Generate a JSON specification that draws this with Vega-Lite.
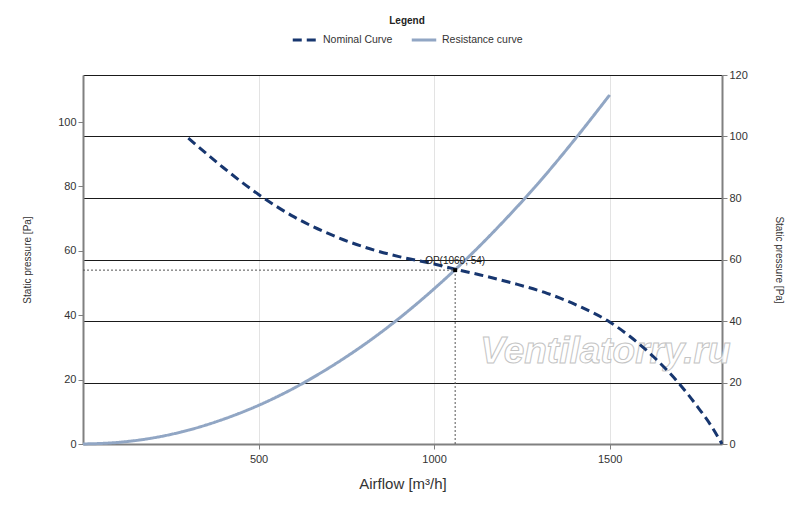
{
  "$schema": "https://vega.github.io/schema/vega-lite/v6.json",
  "width": 639,
  "height": 369,
  "autosize": {"type": "none"},
  "padding": {"left": 83, "top": 75, "right": 78, "bottom": 63},
  "background": "#ffffff",
  "datasets": {
    "curves": [
      {"curve": "Nominal Curve", "q": 300, "p": 95},
      {"curve": "Nominal Curve", "q": 400, "p": 85.8},
      {"curve": "Nominal Curve", "q": 500, "p": 77.5},
      {"curve": "Nominal Curve", "q": 600, "p": 70.6},
      {"curve": "Nominal Curve", "q": 700, "p": 65.3},
      {"curve": "Nominal Curve", "q": 800, "p": 61.2},
      {"curve": "Nominal Curve", "q": 900, "p": 58.2},
      {"curve": "Nominal Curve", "q": 1000, "p": 55.9},
      {"curve": "Nominal Curve", "q": 1060, "p": 54.3},
      {"curve": "Nominal Curve", "q": 1132, "p": 52.5},
      {"curve": "Nominal Curve", "q": 1226, "p": 49.9},
      {"curve": "Nominal Curve", "q": 1322, "p": 46.8},
      {"curve": "Nominal Curve", "q": 1417, "p": 42.6},
      {"curve": "Nominal Curve", "q": 1500, "p": 37.9},
      {"curve": "Nominal Curve", "q": 1559, "p": 33.3},
      {"curve": "Nominal Curve", "q": 1625, "p": 27.1},
      {"curve": "Nominal Curve", "q": 1700, "p": 18.5},
      {"curve": "Nominal Curve", "q": 1750, "p": 11.6},
      {"curve": "Nominal Curve", "q": 1790, "p": 5.5},
      {"curve": "Nominal Curve", "q": 1820, "p": 0},
      {"curve": "Resistance curve", "q": 0, "p": 0},
      {"curve": "Resistance curve", "q": 100, "p": 0.5},
      {"curve": "Resistance curve", "q": 200, "p": 1.9},
      {"curve": "Resistance curve", "q": 300, "p": 4.3},
      {"curve": "Resistance curve", "q": 400, "p": 7.7},
      {"curve": "Resistance curve", "q": 500, "p": 12.0},
      {"curve": "Resistance curve", "q": 600, "p": 17.3},
      {"curve": "Resistance curve", "q": 700, "p": 23.6},
      {"curve": "Resistance curve", "q": 800, "p": 30.8},
      {"curve": "Resistance curve", "q": 900, "p": 39.0},
      {"curve": "Resistance curve", "q": 1000, "p": 48.2},
      {"curve": "Resistance curve", "q": 1100, "p": 58.3},
      {"curve": "Resistance curve", "q": 1200, "p": 69.4},
      {"curve": "Resistance curve", "q": 1300, "p": 81.4},
      {"curve": "Resistance curve", "q": 1400, "p": 94.5},
      {"curve": "Resistance curve", "q": 1500, "p": 108.4}
    ],
    "op": [
      {"label": "OP(1060, 54)", "q": 1060, "p": 54, "q0": 0, "p0": 0}
    ],
    "watermark": [
      {"label": "Ventilatorry.ru", "q": 1488, "p": 28.5}
    ]
  },
  "layer": [
    {
      "data": {"name": "op"},
      "mark": {"type": "rule", "opacity": 0},
      "encoding": {
        "y": {
          "field": "p",
          "type": "quantitative",
          "scale": {"domain": [0, 120], "nice": false},
          "axis": {
            "orient": "right",
            "values": [0, 20, 40, 60, 80, 100, 120],
            "grid": true,
            "gridColor": "#1a1a1a",
            "gridWidth": 1,
            "title": "Static pressure [Pa]",
            "titlePadding": 26
          }
        }
      }
    },
    {
      "layer": [
        {
          "data": {"name": "watermark"},
          "mark": {
            "type": "text",
            "font": "Liberation Sans",
            "fontSize": 37,
            "fontStyle": "italic",
            "fontWeight": "bold",
            "fill": "#ffffff",
            "fillOpacity": 0.85,
            "stroke": "#c4c4c4",
            "strokeWidth": 1,
            "align": "center",
            "baseline": "middle"
          },
          "encoding": {
            "x": {"field": "q", "type": "quantitative"},
            "y": {"field": "p", "type": "quantitative"},
            "text": {"field": "label", "type": "nominal"}
          }
        },
        {
          "data": {"name": "curves"},
          "mark": {"type": "line", "interpolate": "monotone", "strokeWidth": 3},
          "encoding": {
            "x": {
              "field": "q",
              "type": "quantitative",
              "title": "Airflow [m³/h]",
              "scale": {"domain": [0, 1820], "nice": false},
              "axis": {"values": [500, 1000, 1500], "format": "d"}
            },
            "y": {
              "field": "p",
              "type": "quantitative",
              "title": "Static pressure [Pa]",
              "scale": {"domain": [0, 114.6], "nice": false},
              "axis": {"orient": "left", "values": [0, 20, 40, 60, 80, 100], "titlePadding": 25}
            },
            "color": {
              "field": "curve",
              "type": "nominal",
              "scale": {"domain": ["Nominal Curve", "Resistance curve"], "range": ["#17366f", "#91a6c4"]},
              "legend": {"title": "Legend"}
            },
            "strokeDash": {
              "field": "curve",
              "type": "nominal",
              "scale": {"domain": ["Nominal Curve", "Resistance curve"], "range": [[9, 5], [1, 0]]},
              "legend": {"title": "Legend"}
            },
            "order": {"field": "q", "type": "quantitative"}
          }
        },
        {
          "data": {"name": "op"},
          "mark": {"type": "rule", "color": "#555555", "strokeWidth": 1, "strokeDash": [2, 2]},
          "encoding": {
            "x": {"field": "q0", "type": "quantitative"},
            "x2": {"field": "q"},
            "y": {"field": "p", "type": "quantitative"}
          }
        },
        {
          "data": {"name": "op"},
          "mark": {"type": "rule", "color": "#555555", "strokeWidth": 1, "strokeDash": [2, 2]},
          "encoding": {
            "x": {"field": "q", "type": "quantitative"},
            "y": {"field": "p0", "type": "quantitative"},
            "y2": {"field": "p"}
          }
        },
        {
          "data": {"name": "op"},
          "mark": {"type": "square", "color": "#000000", "opacity": 1, "size": 16},
          "encoding": {
            "x": {"field": "q", "type": "quantitative"},
            "y": {"field": "p", "type": "quantitative"}
          }
        },
        {
          "data": {"name": "op"},
          "mark": {"type": "text", "font": "Liberation Sans", "fontSize": 10, "color": "#222222", "dy": -9, "align": "center"},
          "encoding": {
            "x": {"field": "q", "type": "quantitative"},
            "y": {"field": "p", "type": "quantitative"},
            "text": {"field": "label", "type": "nominal"}
          }
        }
      ]
    }
  ],
  "resolve": {"scale": {"y": "independent"}},
  "config": {
    "view": {"stroke": null},
    "font": "Liberation Sans",
    "axis": {
      "domainColor": "#808080",
      "domainWidth": 2,
      "tickColor": "#808080",
      "tickSize": 5,
      "labelFont": "Liberation Sans",
      "labelFontSize": 11,
      "labelColor": "#333333",
      "titleFont": "Liberation Sans",
      "titleFontSize": 10,
      "titleFontWeight": "normal",
      "titleColor": "#333333",
      "gridColor": "#e3e3e3",
      "gridWidth": 1
    },
    "axisX": {
      "titleFontSize": 15,
      "titlePadding": 12,
      "labelPadding": 4
    },
    "legend": {
      "orient": "none",
      "legendX": 208,
      "legendY": -59,
      "direction": "horizontal",
      "titleOrient": "top",
      "titleAnchor": "middle",
      "titleFont": "Liberation Sans",
      "titleFontSize": 10,
      "titleFontWeight": "bold",
      "titleColor": "#222222",
      "titlePadding": 0,
      "labelFont": "Liberation Sans",
      "labelFontSize": 10.5,
      "labelColor": "#333333",
      "symbolType": "stroke",
      "symbolSize": 600,
      "symbolStrokeWidth": 3,
      "columnPadding": 12
    }
  }
}
